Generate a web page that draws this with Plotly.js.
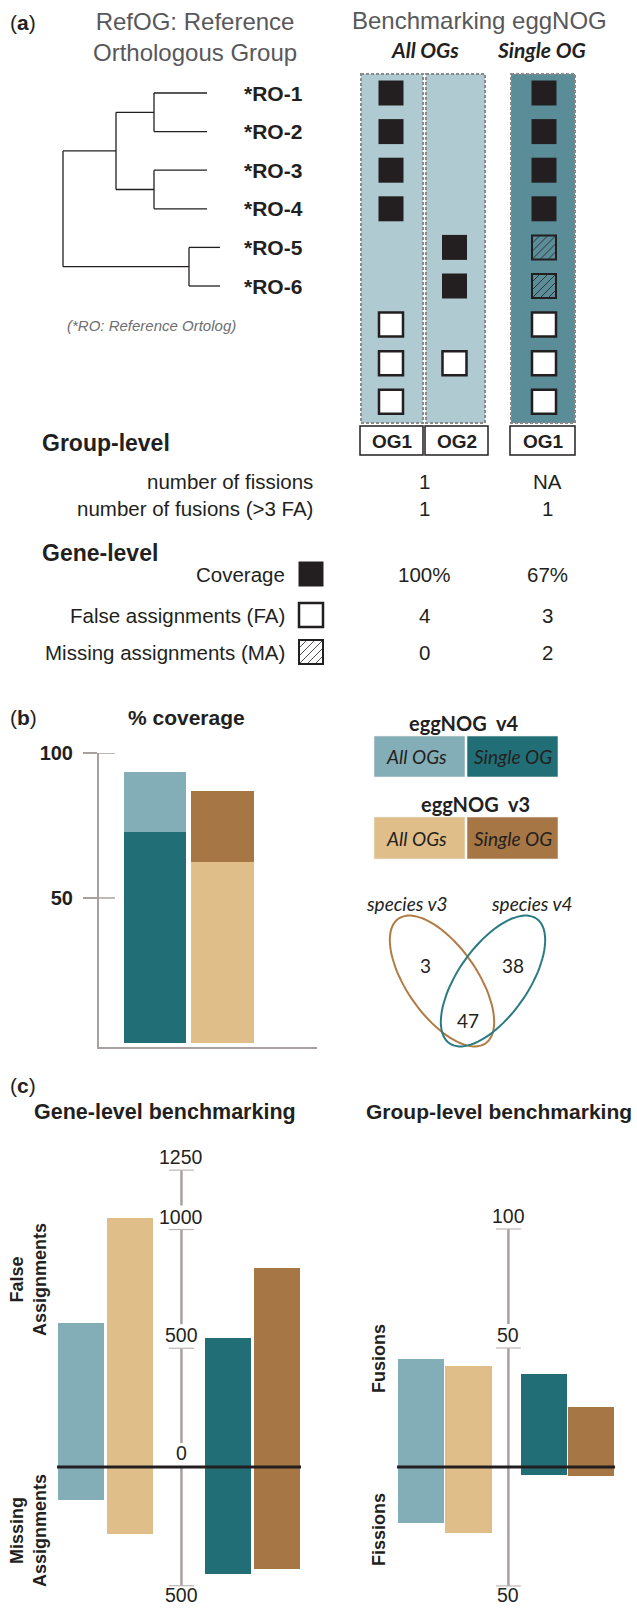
<!DOCTYPE html>
<html><head><meta charset="utf-8">
<script src="https://cdn.plot.ly/plotly-3.0.1.min.js"></script>
<style>html,body{margin:0;padding:0;background:#fff;}#chart{width:637px;height:1608px;}</style>
</head><body><div id="chart"></div>
<script>
// ================= DATA =================
// (a) reference tree (branch lengths) and leaf labels
const refTreeNewick = "(((RO-1:0.53,RO-2:0.53):0.38,(RO-3:0.53,RO-4:0.53):0.38):0.53,(RO-5:0.31,RO-6:0.31):1.26);";
const leafLabels = ['*RO-1','*RO-2','*RO-3','*RO-4','*RO-5','*RO-6'];
const methodHeaders = ['All OGs','Single OG'];
const ogNames = ['OG1','OG2','OG1'];
// C = covered reference ortholog, F = false assignment, M = missing assignment
const og1AllStatus    = ['C','C','C','C','','','F','F','F'];
const og2AllStatus    = ['','','','','C','C','','F',''];
const og1SingleStatus = ['C','C','C','C','M','M','F','F','F'];
const groupMetricLabels = ['number of fissions','number of fusions (>3 FA)'];
const groupAllValues    = ['1','1'];
const groupSingleValues = ['NA','1'];
const geneMetricLabels = ['Coverage','False assignments (FA)','Missing assignments (MA)'];
const geneMetricKeys   = ['C','F','M'];
const geneAllValues    = ['100%','4','0'];
const geneSingleValues = ['67%','3','2'];

// (b) % coverage
const versions = ['eggNOG v4','eggNOG v3'];
const coverageAllOGs   = [93.4, 62.5];
const coverageSingleOG = [72.9, 86.8];
const vennSets = ['species v3','species v4'];
const vennOnlyV3 = 3, vennBoth = 47, vennOnlyV4 = 38;

// (c) benchmarking: order v4 All, v3 All, v4 Single, v3 Single
const seriesNames = ['v4 All OGs','v3 All OGs','v4 Single OG','v3 Single OG'];
const falseAssignments   = [606, 1050, 542, 837];
const missingAssignments = [137, 280, 450, 428];
const fusionCounts  = [45.4, 42.4, 39.1, 25.2];
const fissionCounts = [23.5, 27.7, 3.4, 3.8];
const geneTicks = [1250, 1000, 500, 0, -500];
const geneTickText = ['1250','1000','500','0','500'];
const groupTicks = [100, 50, 0, -50];
const groupTickText = ['100','50','','50'];

// ================= STYLE =================
const W = 637, H = 1608;
const SANS = 'Liberation Sans, Arial, Helvetica, sans-serif';
const HUM = 'Lato, Noto Sans, sans-serif';
const INK = '#231f20', GREY_TXT = '#58585a', AXIS = '#a9a19f';
const C_V4ALL = '#84aeb7', C_V4SINGLE = '#216e77', C_V3ALL = '#dfbe8a', C_V3SINGLE = '#a67645';
const seriesColors = [C_V4ALL, C_V3ALL, C_V4SINGLE, C_V3SINGLE];
const COL_LIGHT = '#b0cad2', COL_DARK = '#5b8d99';

const traces = [], shapes = [], ann = [];
function font(size, o){ return Object.assign({family:SANS, size:size, color:INK}, o||{}); }
function txt(x, y, text, size, o){
  ann.push(Object.assign({xref:'x', yref:'y', x:x, y:y, text:text, showarrow:false,
    xanchor:'center', yanchor:'middle', font:font(size)}, o||{}));
}
function pxDomY(top, bottom){ return [1 - bottom/H, 1 - top/H]; }
function pxDomX(left, right){ return [left/W, right/W]; }

// ================= PANEL (a) =================
const rowY = i => 93 + i*38.6;
function parseNewick(s){
  let i = 0;
  function node(){
    const n = {children:[], name:'', len:0};
    if (s[i] === '('){ i++; n.children.push(node()); while (s[i] === ','){ i++; n.children.push(node()); } i++; }
    let name = ''; while (i < s.length && !':,();'.includes(s[i])) name += s[i++];
    n.name = name.trim();
    if (s[i] === ':'){ i++; let num = ''; while (i < s.length && !',();'.includes(s[i])) num += s[i++]; n.len = parseFloat(num); }
    return n;
  }
  return node();
}
const TREE_X0 = 63, TREE_K = 100;
const tree = parseNewick(refTreeNewick);
let leafCounter = 0;
function place(n, px){
  n.x = px + n.len*TREE_K;
  if (!n.children.length){ n.y = rowY(leafCounter++); }
  else { n.children.forEach(c => place(c, n.x)); n.y = (n.children[0].y + n.children[n.children.length-1].y)/2; }
}
place(tree, TREE_X0);
const tx = [], ty = [];
(function seg(n){
  if (!n.children.length) return;
  const f = n.children[0], l = n.children[n.children.length-1];
  tx.push(n.x, n.x, null); ty.push(f.y, l.y, null);
  n.children.forEach(c => { tx.push(n.x, c.x, null); ty.push(c.y, c.y, null); seg(c); });
})(tree);
traces.push({type:'scatter', mode:'lines', x:tx, y:ty, xaxis:'x', yaxis:'y',
  line:{color:INK, width:1.3}, hoverinfo:'skip', showlegend:false});
leafLabels.forEach((lab, i) => txt(242, rowY(i), '<b>'+lab+'</b>', 21, {xanchor:'left'}));

txt(8, 22, '(<b>a</b>)', 21, {xanchor:'left'});
txt(195, 37, 'RefOG: Reference<br>Orthologous Group', 24, {font:font(24,{color:GREY_TXT})});
txt(479, 20, 'Benchmarking eggNOG', 24, {font:font(24,{color:GREY_TXT})});
txt(425, 49, '<b><i>'+methodHeaders[0]+'</i></b>', 21, {font:{family:HUM, size:21, color:INK}});
txt(541, 49, '<b><i>'+methodHeaders[1]+'</i></b>', 21, {font:{family:HUM, size:21, color:INK}});
txt(151, 325, '<i>(*RO: Reference Ortolog)</i>', 15, {font:font(15,{color:'#6d6e71'})});

// columns
const COLS = [[361,423],[426,485],[511,575]];
const colFill = [COL_LIGHT, COL_LIGHT, COL_DARK];
const colStatus = [og1AllStatus, og2AllStatus, og1SingleStatus];
COLS.forEach((c, k) => {
  shapes.push({type:'rect', xref:'x', yref:'y', x0:c[0], x1:c[1], y0:74, y1:423, layer:'below',
    fillcolor:colFill[k], line:{color:'#8a8a8c', width:2, dash:'3px,2px'}});
  shapes.push({type:'rect', xref:'x', yref:'y', x0:c[0]-1, x1:c[1]+(k===1?3:0), y0:426, y1:455, layer:'below',
    fillcolor:'#fff', line:{color:INK, width:1.5}});
  txt((c[0]+c[1])/2 + (k===1?1:0), 441, '<b>'+ogNames[k]+'</b>', 19);
});

// squares
const sq = {C:{x:[],y:[]}, F:{x:[],y:[]}, M:{x:[],y:[], fill:[]}};
colStatus.forEach((st, k) => {
  const cx = (COLS[k][0]+COLS[k][1])/2 + (k===2?1:-1);
  st.forEach((s, i) => { if (s){ sq[s].x.push(cx); sq[s].y.push(rowY(i)); if (s==='M') sq.M.fill.push(colFill[k]); } });
});
// legend squares in gene-level table
const geneRowY = [574, 615, 652];
geneMetricKeys.forEach((k, i) => { sq[k].x.push(311); sq[k].y.push(geneRowY[i]); if (k==='M') sq.M.fill.push('#fff'); });

traces.push({type:'scatter', mode:'markers', x:sq.C.x, y:sq.C.y, xaxis:'x', yaxis:'y',
  marker:{symbol:'square', size:25, color:INK, line:{width:0}}, hoverinfo:'skip', showlegend:false});
traces.push({type:'scatter', mode:'markers', x:sq.F.x, y:sq.F.y, xaxis:'x', yaxis:'y',
  marker:{symbol:'square', size:24, color:'#fff', line:{width:2.5, color:INK}}, hoverinfo:'skip', showlegend:false});
traces.push({type:'scatter', mode:'markers', x:sq.M.x, y:sq.M.y, xaxis:'x', yaxis:'y',
  marker:{symbol:'square', size:24, color:sq.M.fill, line:{width:2, color:INK}}, hoverinfo:'skip', showlegend:false});
// hatching
const hx = [], hy = [], hs = 11.5;
sq.M.x.forEach((cx, j) => {
  const cy = sq.M.y[j];
  [-16,-8,0,8,16].forEach(c => {
    const u0 = Math.max(-hs, c-hs), u1 = Math.min(hs, c+hs);
    if (u1 > u0){ hx.push(cx+u0, cx+u1, null); hy.push(cy+(c-u0), cy+(c-u1), null); }
  });
});
traces.push({type:'scatter', mode:'lines', x:hx, y:hy, xaxis:'x', yaxis:'y',
  line:{color:INK, width:0.8}, hoverinfo:'skip', showlegend:false});

// table text
txt(40, 443, '<b>Group-level</b>', 23, {xanchor:'left'});
const groupRowY = [481, 508];
groupMetricLabels.forEach((l, i) => {
  txt(315, groupRowY[i], l, 20.5, {xanchor:'right'});
  txt(424, groupRowY[i], groupAllValues[i], 20.5);
  txt(547, groupRowY[i], groupSingleValues[i], 20.5);
});
txt(40, 553, '<b>Gene-level</b>', 23, {xanchor:'left'});
geneMetricLabels.forEach((l, i) => {
  txt(287, geneRowY[i], l, 20.5, {xanchor:'right'});
  txt(424, geneRowY[i], geneAllValues[i], 20.5);
  txt(547, geneRowY[i], geneSingleValues[i], 20.5);
});

// ================= PANEL (b) =================
txt(8, 717, '(<b>b</b>)', 21, {xanchor:'left'});
txt(186, 717, '<b>% coverage</b>', 21);
const covSegs = [];
versions.forEach((v, i) => {
  covSegs.push({x:i, y:coverageAllOGs[i], c: i===0 ? C_V4ALL : C_V3ALL, n:v+' All OGs'});
  covSegs.push({x:i, y:coverageSingleOG[i], c: i===0 ? C_V4SINGLE : C_V3SINGLE, n:v+' Single OG'});
});
covSegs.sort((a, b) => b.y - a.y).forEach(s => traces.push({type:'bar', x:[s.x], y:[s.y], width:0.92,
  xaxis:'x2', yaxis:'y2', name:s.n, marker:{color:s.c, line:{width:0}}, hoverinfo:'skip', showlegend:false}));
// inner half of the tick marks
[50, 100].forEach(v => shapes.push({type:'line', xref:'paper', yref:'y2', x0:99/W, x1:115/W, y0:v, y1:v,
  line:{color:AXIS, width:1.5}}));

// legend boxes
const legBoxX = [[374,465],[467,558]];
const legBoxY = [[736,777],[817,859]];
const legColors = [[C_V4ALL, C_V4SINGLE],[C_V3ALL, C_V3SINGLE]];
const legTitleX = [463, 475];
versions.forEach((v, i) => {
  txt(legTitleX[i], legBoxY[i][0]-13, '<b>'+v.replace(' ', '\u00a0\u00a0')+'</b>', 20, {font:{family:HUM, size:20, color:INK}});
  methodHeaders.forEach((m, j) => {
    shapes.push({type:'rect', xref:'x', yref:'y', x0:legBoxX[j][0], x1:legBoxX[j][1], y0:legBoxY[i][0], y1:legBoxY[i][1],
      fillcolor:legColors[i][j], line:{color:'#eeeeee', width:0.6}, layer:'below'});
    txt((legBoxX[j][0]+legBoxX[j][1])/2 + (j===0?-3:0), (legBoxY[i][0]+legBoxY[i][1])/2, '<i>'+m+'</i>', 19,
      {font:{family:HUM, size:19, color:INK}});
  });
});
// venn
function ellipsePath(cx, cy, a, b, deg){
  const t = deg*Math.PI/180; let p = '';
  for (let k = 0; k <= 90; k++){
    const u = 2*Math.PI*k/90, ex = a*Math.cos(u), ey = b*Math.sin(u);
    const x = cx + ex*Math.cos(t) - ey*Math.sin(t), y = cy + ex*Math.sin(t) + ey*Math.cos(t);
    p += (k ? 'L' : 'M') + x.toFixed(1) + ',' + y.toFixed(1);
  }
  return p + 'Z';
}
shapes.push({type:'path', xref:'x', yref:'y', path:ellipsePath(442, 981, 76, 35, 55), line:{color:'#b07c44', width:2}});
shapes.push({type:'path', xref:'x', yref:'y', path:ellipsePath(493, 981, 76, 35, 125), line:{color:'#2a7a84', width:2}});
txt(407, 903, '<i>'+vennSets[0]+'</i>', 19, {font:{family:HUM, size:19, color:INK}});
txt(532, 903, '<i>'+vennSets[1]+'</i>', 19, {font:{family:HUM, size:19, color:INK}});
txt(425, 965, String(vennOnlyV3), 19, {font:{family:HUM, size:19, color:INK}});
txt(513, 965, String(vennOnlyV4), 19, {font:{family:HUM, size:19, color:INK}});
txt(468, 1020, String(vennBoth), 19, {font:{family:HUM, size:19, color:INK}});

// ================= PANEL (c) =================
txt(8, 1085, '(<b>c</b>)', 21, {xanchor:'left'});
txt(32, 1112, '<b>Gene-level benchmarking</b>', 21.5, {xanchor:'left'});
txt(364, 1111, '<b>Group-level benchmarking</b>', 21, {xanchor:'left'});
txt(28, 1280, '<b>False<br>Assignments</b>', 18, {textangle:-90});
txt(28, 1531, '<b>Missing<br>Assignments</b>', 18, {textangle:-90});
txt(379, 1359, '<b>Fusions</b>', 18, {textangle:-90});
txt(379, 1530, '<b>Fissions</b>', 18, {textangle:-90});

function divergingPanel(xa, ya, up, down, gapUnits, width, axisPos, ticks, tickText, pxPerUnit, unitPx){
  const xs = seriesNames.map((s, i) => (i % 2) + Math.floor(i/2)*(2 + gapUnits));
  seriesNames.forEach((s, i) => {
    traces.push({type:'bar', x:[xs[i]], y:[up[i]], width:width, xaxis:xa, yaxis:ya, name:s,
      marker:{color:seriesColors[i], line:{width:0}}, hoverinfo:'skip', showlegend:false});
    traces.push({type:'bar', x:[xs[i]], y:[-down[i]], width:width, xaxis:xa, yaxis:ya, name:s,
      marker:{color:seriesColors[i], line:{width:0}}, hoverinfo:'skip', showlegend:false});
  });
  // axis line with gaps for labels
  const ax = [], ay = [], gap = 24/pxPerUnit;
  for (let i = 0; i < ticks.length-1; i++){
    const nxtAbove = ticks[i+1] >= 0 && tickText[i+1] !== '';
    ax.push(axisPos, axisPos, null); ay.push(ticks[i], nxtAbove ? ticks[i+1] + gap : ticks[i+1], null);
  }
  traces.push({type:'scatter', mode:'lines', x:ax, y:ay, xaxis:xa, yaxis:ya,
    line:{color:AXIS, width:2.5}, hoverinfo:'skip', showlegend:false});
  const dx = 12.5/unitPx;
  ticks.forEach((t, i) => {
    if (t !== 0) shapes.push({type:'line', xref:xa, yref:ya, x0:axisPos-dx, x1:axisPos+dx, y0:t, y1:t,
      line:{color:'#bdb6b4', width:1.2}});
    if (tickText[i] !== '') ann.push({xref:xa, yref:ya, x:axisPos, y:t, text:tickText[i], showarrow:false,
      xanchor:'center', yanchor: t >= 0 ? 'bottom' : 'top', yshift: t === 0 ? 1 : (t < 0 ? 4 : 0), font:font(19.5)});
  });
  const x0 = xs[0] - width/2 - 0.02, x1 = xs[xs.length-1] + width/2 + 0.02;
  shapes.push({type:'line', xref:xa, yref:ya, x0:x0, x1:x1, y0:0, y1:0, line:{color:INK, width:3}, layer:'above'});
  return xs;
}
// left panel: unit 49px, position 0 at 81px; 0 at 1467px, 0.2375 px/unit
divergingPanel('x3', 'y3', falseAssignments, missingAssignments, 1, 0.94, 2.05, geneTicks, geneTickText, 0.2375, 49);
// right panel: unit 47.5px, position 0 at 421px; 2.38 px/unit
divergingPanel('x4', 'y4', fusionCounts, fissionCounts, 0.58, 0.97, 1.84, groupTicks, groupTickText, 2.38, 47.5);

function yRange(zeroPx, k, topPx, botPx){ return [(zeroPx - botPx)/k, (zeroPx - topPx)/k]; }
function xRange(pos0Px, unit, l, r){ return [(l - pos0Px)/unit, (r - pos0Px)/unit]; }
const hidden = {visible:false, showgrid:false, zeroline:false, fixedrange:true};

const layout = {
  width:W, height:H, margin:{l:0, r:0, t:0, b:0}, paper_bgcolor:'#fff', plot_bgcolor:'rgba(0,0,0,0)',
  showlegend:false, barmode:'overlay', bargap:0,
  xaxis:Object.assign({domain:[0,1], range:[0,W], anchor:'y'}, hidden),
  yaxis:Object.assign({domain:[0,1], range:[H,0], anchor:'x'}, hidden),
  xaxis2:{domain:pxDomX(99,317), range:xRange(155, 67.5, 99, 317), anchor:'y2', showline:true, linecolor:AXIS,
    linewidth:2, showgrid:false, zeroline:false, showticklabels:false, ticks:'', fixedrange:true},
  yaxis2:{domain:pxDomY(753,1047), range:[-1.4,100], anchor:'x2', showline:true, linecolor:AXIS, linewidth:2,
    showgrid:false, zeroline:false, tickvals:[50,100], ticktext:['50','100'], ticks:'outside', ticklen:14,
    tickwidth:1.5, tickcolor:AXIS, ticklabelstandoff:6, tickfont:{family:SANS, size:20, color:INK, weight:700}, fixedrange:true},
  xaxis3:Object.assign({domain:pxDomX(50,310), range:xRange(81, 49, 50, 310), anchor:'y3'}, hidden),
  yaxis3:Object.assign({domain:pxDomY(1160,1592), range:yRange(1467, 0.2375, 1160, 1592), anchor:'x3'}, hidden),
  xaxis4:Object.assign({domain:pxDomX(390,625), range:xRange(421, 47.5, 390, 625), anchor:'y4'}, hidden),
  yaxis4:Object.assign({domain:pxDomY(1215,1595), range:yRange(1467, 2.38, 1215, 1595), anchor:'x4'}, hidden),
  shapes:shapes, annotations:ann
};
Plotly.newPlot('chart', traces, layout, {staticPlot:true, displayModeBar:false});
</script></body></html>
